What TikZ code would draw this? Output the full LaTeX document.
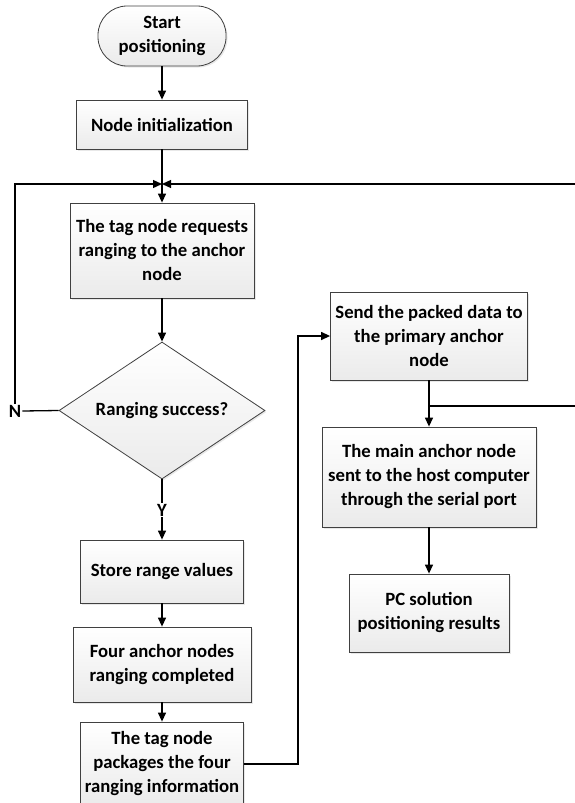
\documentclass[tikz,border=0pt]{standalone}
\usepackage{fontspec}
\setmainfont{Carlito}
\usetikzlibrary{shapes.geometric,shadows,arrows.meta}
\begin{document}
\begin{tikzpicture}[x=1pt,y=-1pt,
  font=\bfseries\fontsize{18.7}{24}\selectfont,
  box/.style={draw=black!75, line width=0.8pt, top color=white, bottom color=black!8,
    align=center, inner sep=0pt,
    drop shadow={opacity=0.18,shadow xshift=1.5pt,shadow yshift=-1.5pt}},
  lbl/.style={inner sep=1pt},
  flow/.style={line width=1.3pt, -{Triangle[length=9pt,width=8pt]}},
  plain/.style={line width=1.3pt}]
\useasboundingbox (0,0) rectangle (575,803);

\node[box, minimum width=128pt, minimum height=60pt, rounded corners=29pt] (start) at (162,36) {Start\\positioning};
\node[box, minimum width=171pt, minimum height=49pt] (init) at (162,124.5) {Node initialization};
\coordinate (j) at (162,184);
\node[box, minimum width=184pt, minimum height=95pt] (req) at (162,250.5) {The tag node requests\\ranging to the anchor\\node};
\node[box, diamond, shape aspect=1.5, minimum width=206pt, minimum height=137pt] (dec) at (162,410.5) {Ranging success?};
\node[lbl] (N) at (15,411) {N};
\node[lbl] (Y) at (162,510) {Y};
\node[box, minimum width=163pt, minimum height=63pt] (store) at (162,571.5) {Store range values};
\node[box, minimum width=178pt, minimum height=75pt] (four) at (162,664.5) {Four anchor nodes\\ranging completed};
\node[box, minimum width=163pt, minimum height=84pt] (pack) at (162,764) {The tag node\\packages the four\\ranging information};
\node[box, minimum width=197pt, minimum height=88pt] (send) at (429,336) {Send the packed data to\\the primary anchor\\node};
\node[box, minimum width=214pt, minimum height=100pt] (main) at (429,477) {The main anchor node\\sent to the host computer\\through the serial port};
\node[box, minimum width=160pt, minimum height=78pt] (pc) at (429,613) {PC solution\\positioning results};

\coordinate (r1) at (575,184);
\coordinate (c1) at (298,764);
\coordinate (b) at (429,406);
\coordinate (r2) at (575,406);

\draw[flow] (start) -- (init);
\draw[flow] (init) -- (req);
\draw[flow] (req) -- (dec);
\draw[plain] (dec.west) -- (N.east);
\draw[flow] (N.north) |- (j);
\draw[flow] (r1) -- (j);
\draw[plain] (dec.south) -- (Y.north);
\draw[flow] (Y.south) -- (store);
\draw[flow] (store) -- (four);
\draw[flow] (four) -- (pack);
\draw[flow] (pack.east) -- (c1) |- (send.west);
\draw[flow] (send) -- (main);
\draw[plain] (b) -- (r2);
\draw[flow] (main) -- (pc);
\end{tikzpicture}
\end{document}
